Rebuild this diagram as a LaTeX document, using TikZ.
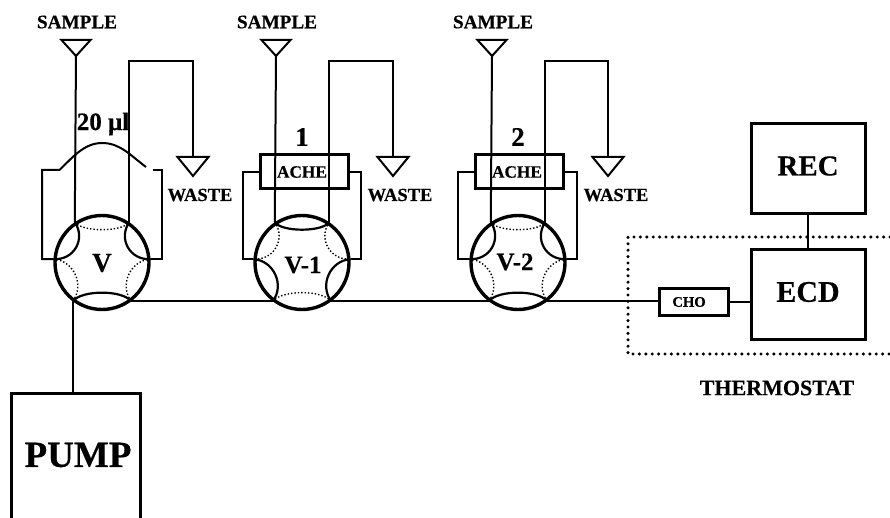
\documentclass[tikz,border=0pt]{standalone}
\usepackage{fontspec}
\setmainfont[BoldFeatures={FakeBold=0.4}]{Liberation Serif}
\usetikzlibrary{calc}
\newcommand\fs[1]{\fontsize{#1}{#1}\selectfont\bfseries}
\tikzset{
  pipe/.style={line width=2pt,line join=miter},
  valvebody/.style={circle,draw,line width=3.4pt,minimum size=94pt,inner sep=0pt},
  sol/.style={line width=2.2pt},
  dot/.style={line width=1.4pt,dash pattern=on 1.4pt off 2pt},
  boxa/.style={draw,line width=3pt,inner sep=0pt},
  lab/.style={inner sep=0pt,font=\fs{#1}},
  therm/.style={line width=3.4pt,line cap=round,dash pattern=on 0pt off 6.4pt},
}
% #1 style, #2 valve, #3 angle, #4 angle, #5 pull towards the centre
\newcommand\seat[5]{\draw[#1] (#2.#3) .. controls ($(#2.#3)!#5!(#2.center)$) and ($(#2.#4)!#5!(#2.center)$) .. (#2.#4);}
\newcommand\seatsA[1]{%
  \seat{sol}{#1}{124}{176}{.42}\seat{sol}{#1}{56}{4}{.42}\seat{sol}{#1}{-127}{-53}{.3}
  \seat{dot}{#1}{124}{56}{.25}\seat{dot}{#1}{176}{-127}{.42}\seat{dot}{#1}{4}{-53}{.42}}
\newcommand\seatsB[1]{%
  \seat{dot}{#1}{124}{176}{.42}\seat{dot}{#1}{56}{4}{.42}\seat{dot}{#1}{-127}{-53}{.3}
  \seat{sol}{#1}{124}{56}{.25}\seat{sol}{#1}{176}{-127}{.42}\seat{sol}{#1}{4}{-53}{.42}}
% #1 valve, #2 sample apex x, #3 waste apex x
\newcommand\lines[3]{%
  \coordinate (#1s) at (#2,56);
  \coordinate (#1w) at (#3,176);
  \draw[pipe] (#1s) -- ++(-14.5,-16) -- ++(29,0) -- cycle;
  \draw[pipe] (#1w) -- ++(-15.5,-19) -- ++(31,0) -- cycle;
  \draw[pipe] (#1s) -- (#1.124);
  \draw[pipe] (#1.56) |- (#3,61) -- ($(#1w)+(0,-19)$);
}
\begin{document}
\begin{tikzpicture}[x=1pt,y=-1pt]
\useasboundingbox (0,0) rectangle (890,518);
\node[valvebody] (Va) at (102,262.5) {};
\node[valvebody] (Vb) at (302,262.5) {};
\node[valvebody] (Vc) at (518,262.5) {};
\seatsA{Va}\seatsB{Vb}\seatsA{Vc}
\lines{Va}{76}{193}
\lines{Vb}{276}{393}
\lines{Vc}{492}{608}
% sample loop of V
\coordinate (lA) at (59.5,170);
\coordinate (lB) at (146,167);
\coordinate (lC) at (153,170);
\draw[pipe] (Va.176) -| (42,170) -- (lA) .. controls (72,158) and (84,143) .. (102,143) .. controls (120,143) and (130,155) .. (lB);
\draw[pipe] (lC) -- (162,170) |- (Va.4);
% enzyme reactors
\node[boxa,minimum width=88pt,minimum height=34pt] (Ra) at (304,172) {};
\node[boxa,minimum width=88pt,minimum height=34pt] (Rb) at (519,172) {};
\draw[pipe] (Ra.west) -| (243,200) |- (Vb.176);
\draw[pipe] (Ra.east) -| (361,200) |- (Vb.4);
\draw[pipe] (Rb.west) -| (458,200) |- (Vc.176);
\draw[pipe] (Rb.east) -| (577,200) |- (Vc.4);
% detector side
\node[boxa,minimum width=69pt,minimum height=27pt] (cho) at (693.5,301.5) {};
\node[boxa,minimum width=114pt,minimum height=89pt] (ecd) at (808,294.5) {};
\node[boxa,minimum width=114pt,minimum height=90pt] (rec) at (808,169) {};
\draw[pipe] (rec.south) -- (ecd.north);
\draw[pipe] (cho.east) -- (ecd.west |- cho.east);
% main line
\draw[pipe] (Va.-53) -- (Vb.-127);
\draw[pipe] (Vb.-53) -- (Vc.-127);
\draw[pipe] (Vc.-53) -- (Vc.-53 -| cho.west);
% thermostat
\draw[therm] (890,237) -- (628,237) -- (628,354) -- (890,354);
% pump
\coordinate (pTL) at (11,393);
\coordinate (pTR) at (140.5,393);
\draw[line width=3pt] (11,518) -- (pTL) -- (pTR) -- (140.5,518);
\draw[pipe] (Va.-127) -- (Va.-127 |- pTL);
% labels
\node[lab=19.2] (t1) at (77,22) {SAMPLE};
\node[lab=19.2] (t2) at (277,22) {SAMPLE};
\node[lab=19.2] (t3) at (493,22) {SAMPLE};
\node[lab=18.5] (w1) at (200,195) {WASTE};
\node[lab=18.5] (w2) at (400,195) {WASTE};
\node[lab=18.5] (w3) at (616,195) {WASTE};
\node[lab=25] (vol) at (103,124) {20 μl};
\node[lab=27] (n1) at (302,137) {1};
\node[lab=27] (n2) at (518,137) {2};
\node[lab=17.3] (a1) at (302,172) {ACHE};
\node[lab=17.3] (a2) at (517,172) {ACHE};
\node[lab=27] (v1) at (102,263) {V};
\node[lab=25] (v2) at (303,265) {V-1};
\node[lab=25] (v3) at (515,262) {V-2};
\node[lab=14.6] (c) at (689,302) {CHO};
\node[lab=29] (r) at (808,166) {REC};
\node[lab=30] (e) at (808,292) {ECD};
\node[lab=22] (th) at (777,388) {THERMOSTAT};
\node[lab=37] (pu) at (78,455) {PUMP};
\end{tikzpicture}
\end{document}
